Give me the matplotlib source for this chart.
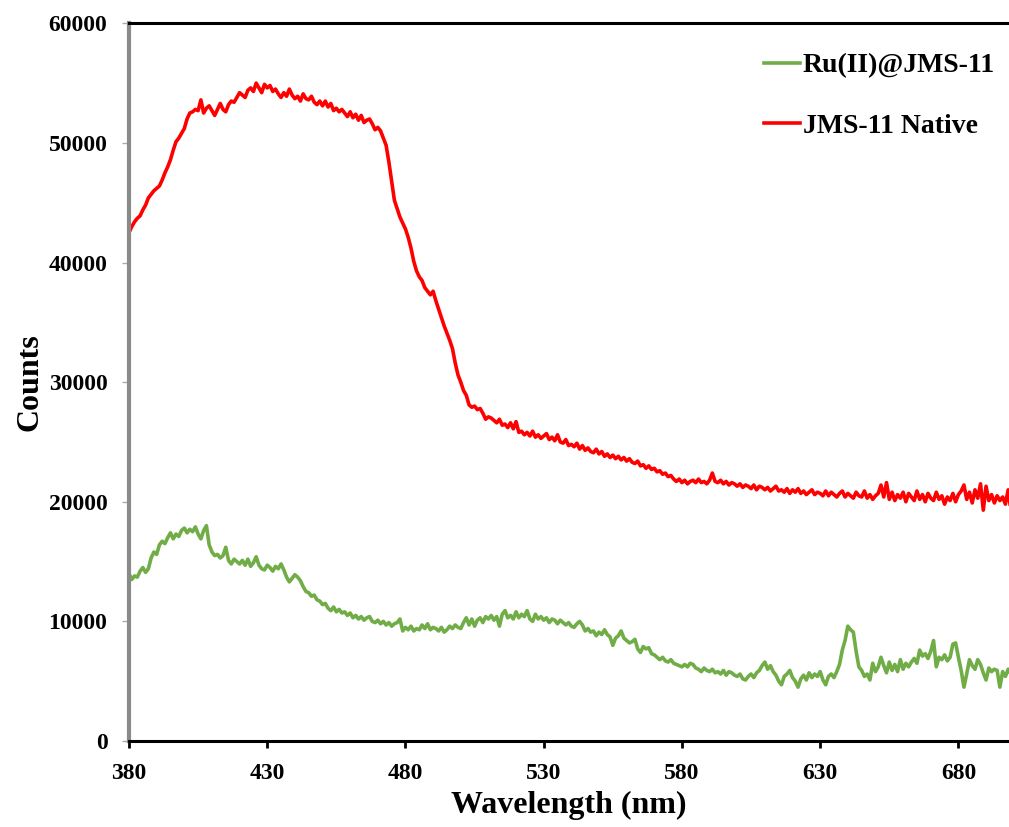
import numpy as np
import matplotlib
matplotlib.use("Agg")
import matplotlib.pyplot as plt

wavelength = list(range(380, 700))

native_counts = [
    42500, 43000, 43400, 43700, 43900, 44400, 44800, 45400, 45700, 46000,
    46200, 46400, 46900, 47500, 48000, 48600, 49400, 50100, 50400, 50800,
    51200, 52000, 52500, 52600, 52800, 52700, 53600, 52500, 52900, 53100,
    52700, 52300, 52800, 53300, 52800, 52600, 53200, 53500, 53400, 53800,
    54200, 54000, 53800, 54400, 54600, 54300, 55000, 54600, 54200, 54900,
    54600, 54800, 54300, 54500, 54100, 53800, 54200, 53900, 54500, 54000,
    53700, 53900, 53500, 54100, 53700, 53600, 53900, 53400, 53200, 53500,
    53100, 53500, 53000, 53300, 52700, 52900, 52600, 52800, 52500, 52200,
    52600, 52100, 52400, 51900, 52300, 51700, 51900, 52000, 51600, 51100,
    51300, 51000, 50400, 49800, 48400, 46800, 45200, 44500, 43800, 43300,
    42800, 42100, 41200, 40100, 39300, 38800, 38500, 37900, 37600, 37300,
    37600, 36800, 36100, 35400, 34700, 34100, 33500, 32800, 31600, 30600,
    30000, 29300, 28900, 28100, 27900, 28000, 27700, 27800, 27400, 26900,
    27100, 27000, 26800, 26600, 26900, 26400, 26500, 26200, 26600, 26100,
    26700, 25800, 25900, 25600, 25800, 25500, 25900, 25400, 25600, 25300,
    25500, 25700, 25200, 25400, 25100, 25600, 25000, 24900, 25200, 24700,
    24800, 24600, 24900, 24400, 24700, 24300, 24500, 24200, 24100, 24400,
    24000, 24200, 23800, 24000, 23700, 23900, 23600, 23800, 23500, 23700,
    23400, 23600, 23300, 23200, 23400, 23000, 23100, 22800, 23000, 22700,
    22800, 22500, 22600, 22300, 22400, 22100, 22200, 21900, 21700, 21900,
    21600, 21800, 21500, 21700, 21800, 21600, 21900, 21600, 21700, 21500,
    21800, 22400, 21700, 21600, 21800, 21500, 21700, 21400, 21600, 21500,
    21300, 21500, 21200, 21400, 21300, 21100, 21400, 21000, 21300, 21200,
    21000, 21200, 20900, 21100, 21300, 20900, 21000, 20800, 21100, 20700,
    21000, 20800, 21100, 20700, 20900, 20600, 20800, 21000, 20600, 20800,
    20700, 20500, 20900, 20500, 20800, 20600, 20400, 20700, 20900, 20400,
    20700, 20500, 20300, 20800, 20500, 20400, 20900, 20300, 20600, 20200,
    20500, 20700, 21400, 20400, 21600, 20200, 20800, 20100, 20600, 20300,
    20800, 20000, 20700, 20400, 20100, 20900, 20200, 20600, 20000, 20700,
    20300, 20100, 20800, 20200, 20500, 19800, 20400, 20100, 20700, 20000,
    20600, 20900, 21400, 20200, 20800, 19900, 21000, 20300, 21500, 19300,
    21300, 20100, 20600, 19900, 20500, 20100, 20400, 19800, 21000, 19200,
]

ru_counts = [
    14000, 13500, 13800, 13700, 14200, 14500, 14100, 14400, 15300, 15800,
    15600, 16400, 16700, 16500, 17000, 17400, 16900, 17300, 17100, 17600,
    17800, 17400, 17700, 17500, 17900, 17300, 16900, 17600, 18000, 16400,
    15800, 15500, 15600, 15300, 15500, 16200, 15100, 14800, 15200, 15000,
    14800, 15100, 14700, 15200, 14600, 14900, 15400, 14700, 14400, 14300,
    14700, 14500, 14200, 14600, 14400, 14800, 14300, 13700, 13300, 13600,
    13900, 13700, 13400, 12900, 12500, 12400, 12100, 12200, 11800, 11700,
    11400, 11500, 11100, 10900, 11200, 10800, 11000, 10700, 10800, 10500,
    10700, 10300, 10500, 10200, 10400, 10100, 10300, 10400, 10000, 9900,
    10100, 9800, 10000, 9700, 9900, 9600, 9800, 9900, 10200, 9200,
    9500, 9300, 9600, 9200, 9400, 9300, 9700, 9400, 9800, 9300,
    9500, 9400, 9200, 9500, 9100, 9300, 9600, 9400, 9700, 9500,
    9400, 9900, 10300, 9700, 10200, 9600, 10100, 10300, 9900, 10400,
    10200, 10500, 10100, 10400, 9600, 10600, 10900, 10300, 10500, 10200,
    10800, 10300, 10600, 10400, 10900, 10200, 10000, 10600, 10200, 10400,
    10100, 10300, 9900, 10200, 10100, 9800, 10100, 9900, 9700, 9900,
    9600, 9500, 9800, 10000, 9700, 9200, 9400, 9100, 9200, 8800,
    9100, 8900, 9300, 8900, 8700, 8000, 8600, 8800, 9200, 8600,
    8400, 8200, 8300, 8500, 7700, 7400, 7900, 7700, 7800, 7300,
    7200, 7000, 6800, 7000, 6700, 6600, 6800, 6500, 6400, 6300,
    6200, 6400, 6200, 6500, 6400, 6100, 6000, 5800, 6100, 5900,
    5800, 6000, 5700, 5800, 5600, 5900, 5500, 5800, 5700, 5500,
    5400, 5600, 5200, 5100, 5400, 5600, 5300, 5700, 5900, 6300,
    6600, 6000, 6300, 5800, 5500, 5000, 4700, 5400, 5600, 5900,
    5300, 5000, 4500, 5200, 5500, 5100, 5700, 5300, 5600, 5400,
    5800, 5100, 4700, 5400, 5600, 5300, 5800, 6400, 7600, 8400,
    9600, 9300, 9100, 7500, 6200, 5900, 5400, 5600, 5100, 6500,
    5800, 6200, 7000, 6300, 5700, 6600, 5900, 6400, 5800, 6800,
    6000, 6500, 6200, 6600, 6900, 6500, 7600, 7100, 7300, 6900,
    7500, 8400, 6200, 7000, 6800, 7200, 6700, 7000, 8100, 8200,
    7000, 5900, 4500, 5600, 6800, 6300, 6000, 6800, 6400, 5700,
    5100, 6100, 5800, 6000, 5900, 4500, 5800, 5400, 6000, 5600,
]

series_labels = ["Ru(II)@JMS-11", "JMS-11 Native"]
x_ticks = [380, 430, 480, 530, 580, 630, 680]
y_ticks = [0, 10000, 20000, 30000, 40000, 50000, 60000]

plt.rcParams['font.family'] = ['Liberation Serif', 'DejaVu Serif']
plt.rcParams['font.weight'] = 'bold'

W, H = 1009, 827
fig = plt.figure(figsize=(W / 100, H / 100), dpi=100)
left_px, right_px, top_px, bottom_px = 129, 1009, 23.3, 741
ax = fig.add_axes([left_px / W, 1 - bottom_px / H,
                   (right_px - left_px) / W, (bottom_px - top_px) / H])

ax.plot(wavelength, ru_counts, color='#70AD47', lw=2.6, label=series_labels[0],
        solid_joinstyle='round')
ax.plot(wavelength, native_counts, color='#FF0000', lw=2.6, label=series_labels[1],
        solid_joinstyle='round')

ax.set_xlim(380, 698.3)
ax.set_ylim(0, 60000)
ax.set_xticks(x_ticks)
ax.set_yticks(y_ticks)

ax.spines['right'].set_visible(False)
ax.spines['top'].set_linewidth(2.2)
ax.spines['top'].set_color('black')
ax.spines['bottom'].set_linewidth(2.2)
ax.spines['bottom'].set_color('black')
ax.spines['left'].set_linewidth(3)
ax.spines['left'].set_color('#8a8a8a')

ax.tick_params(axis='x', direction='out', length=5, width=2, color='black',
               labelsize=17, pad=10.5)
ax.tick_params(axis='y', direction='out', length=5, width=1, color='#aaaaaa',
               labelsize=17, pad=10.5)
for lab in ax.get_xticklabels() + ax.get_yticklabels():
    lab.set_fontweight('bold')

ax.set_xlabel('Wavelength (nm)', fontsize=23, fontweight='bold', labelpad=5)
ax.set_ylabel('Counts', fontsize=23, fontweight='bold', labelpad=3)

leg = ax.legend(loc='upper left', bbox_to_anchor=(764 / W, 1 - 53 / H),
                bbox_transform=fig.transFigure, frameon=False,
                prop={'size': 20, 'weight': 'bold'}, handlelength=1.3,
                handletextpad=0.1, labelspacing=1.25, borderpad=0,
                borderaxespad=0)
for line in leg.get_lines():
    line.set_linewidth(2.6)

fig.savefig('out.png', dpi=100)
